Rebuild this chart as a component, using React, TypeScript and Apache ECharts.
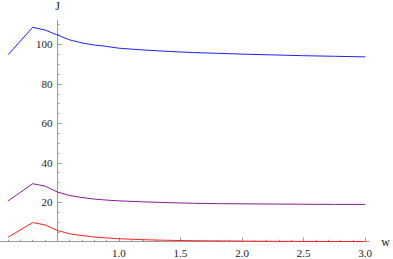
import React, { useEffect, useRef } from "react";
import * as echarts from "echarts";

const xValues = [0.1, 0.3, 0.4, 0.5, 0.6, 0.7, 0.8, 0.9, 1.0, 1.2, 1.4, 1.6, 1.8, 2.0, 2.25, 2.5, 2.75, 3.0];
const blueValues = [94.8, 108.7, 107.3, 104.8, 102.3, 100.8, 99.7, 99.0, 98.1, 97.2, 96.5, 95.9, 95.5, 95.1, 94.7, 94.3, 94.0, 93.7];
const purpleValues = [20.7, 29.4, 28.2, 25.2, 23.4, 22.4, 21.6, 21.1, 20.7, 20.2, 19.8, 19.5, 19.3, 19.2, 19.1, 19.0, 18.9, 18.9];
const redValues = [2.3, 9.7, 8.5, 5.7, 4.0, 3.1, 2.4, 1.9, 1.5, 1.0, 0.7, 0.5, 0.4, 0.3, 0.2, 0.15, 0.1, 0.1];

const xMajorTicks = [1.0, 1.5, 2.0, 2.5, 3.0];
const xMinorTicks = [0.1, 0.2, 0.3, 0.4, 0.6, 0.7, 0.8, 0.9, 1.1, 1.2, 1.3, 1.4, 1.6, 1.7, 1.8, 1.9, 2.1, 2.2, 2.3, 2.4, 2.6, 2.7, 2.8, 2.9];
const yMajorTicks = [20, 40, 60, 80, 100];
const yMinorTicks = [5, 10, 15, 25, 30, 35, 45, 50, 55, 65, 70, 75, 85, 90, 95, 105, 110];

const X_MIN = 0.034;
const X_MAX = 3.034;
const Y_MIN = 0;
const Y_MAX = 112.4;
const Y_AXIS_AT = 0.5;

const W = 393;
const H = 259;
const GRID_LEFT = 0;
const GRID_RIGHT = 23;
const GRID_TOP = 18;
const GRID_BOTTOM = 17.3;

const FONT = "Liberation Serif";

export default function App() {
  const ref = useRef<HTMLDivElement>(null);
  useEffect(() => {
    if (!ref.current) return;
    const chart = echarts.init(ref.current, undefined, { renderer: "svg" });
    const gridW = W - GRID_LEFT - GRID_RIGHT;
    const yAxisPx = ((Y_AXIS_AT - X_MIN) / (X_MAX - X_MIN)) * gridW;
    const axisColor = "#9a9a9a";
    const labelStyle = { fontFamily: FONT, fontSize: 11, color: "#222" };
    const mk = (vals: number[]) => xValues.map((x, i) => [x, vals[i]]);
    const xBase = {
      type: "value",
      min: X_MIN,
      max: X_MAX,
      position: "bottom",
      splitLine: { show: false },
    };
    const yBase = {
      type: "value",
      min: Y_MIN,
      max: Y_MAX,
      position: "left",
      offset: -yAxisPx,
      splitLine: { show: false },
    };
    chart.setOption({
      animation: false,
      textStyle: { fontFamily: FONT },
      grid: { left: GRID_LEFT, right: GRID_RIGHT, top: GRID_TOP, bottom: GRID_BOTTOM, containLabel: false },
      xAxis: [
        {
          ...xBase,
          name: "w",
          nameLocation: "end",
          nameGap: 12,
          nameTextStyle: { ...labelStyle, fontSize: 12, verticalAlign: "middle" },
          axisLine: { show: true, onZero: false, lineStyle: { color: axisColor, width: 1 } },
          axisTick: { show: true, inside: true, length: 4, customValues: xMajorTicks, lineStyle: { color: axisColor } },
          axisLabel: { show: true, customValues: xMajorTicks, margin: 6, ...labelStyle, formatter: (v: number) => v.toFixed(1) },
        },
        {
          ...xBase,
          axisLine: { show: false, onZero: false },
          axisTick: { show: true, inside: true, length: 2, customValues: xMinorTicks, lineStyle: { color: axisColor } },
          axisLabel: { show: false },
        },
      ],
      yAxis: [
        {
          ...yBase,
          name: "J",
          nameLocation: "end",
          nameGap: 8,
          nameTextStyle: { ...labelStyle, fontSize: 12, align: "center" },
          axisLine: { show: true, onZero: false, lineStyle: { color: axisColor, width: 1 } },
          axisTick: { show: true, inside: true, length: 4, customValues: yMajorTicks, lineStyle: { color: axisColor } },
          axisLabel: { show: true, customValues: yMajorTicks, margin: 5, ...labelStyle },
        },
        {
          ...yBase,
          axisLine: { show: false, onZero: false },
          axisTick: { show: true, inside: true, length: 2, customValues: yMinorTicks, lineStyle: { color: axisColor } },
          axisLabel: { show: false },
        },
      ],
      series: [
        { type: "line", data: mk(blueValues), showSymbol: false, lineStyle: { color: "#2020ff", width: 1 }, xAxisIndex: 0, yAxisIndex: 0 },
        { type: "line", data: mk(purpleValues), showSymbol: false, lineStyle: { color: "#8a1a9a", width: 1 }, xAxisIndex: 0, yAxisIndex: 0 },
        { type: "line", data: mk(redValues), showSymbol: false, lineStyle: { color: "#ff2020", width: 1 }, xAxisIndex: 0, yAxisIndex: 0 },
      ],
    });
    return () => chart.dispose();
  }, []);
  return <div ref={ref} style={{ position: "fixed", left: 0, top: 0, width: W, height: H, background: "#fff" }} />;
}
